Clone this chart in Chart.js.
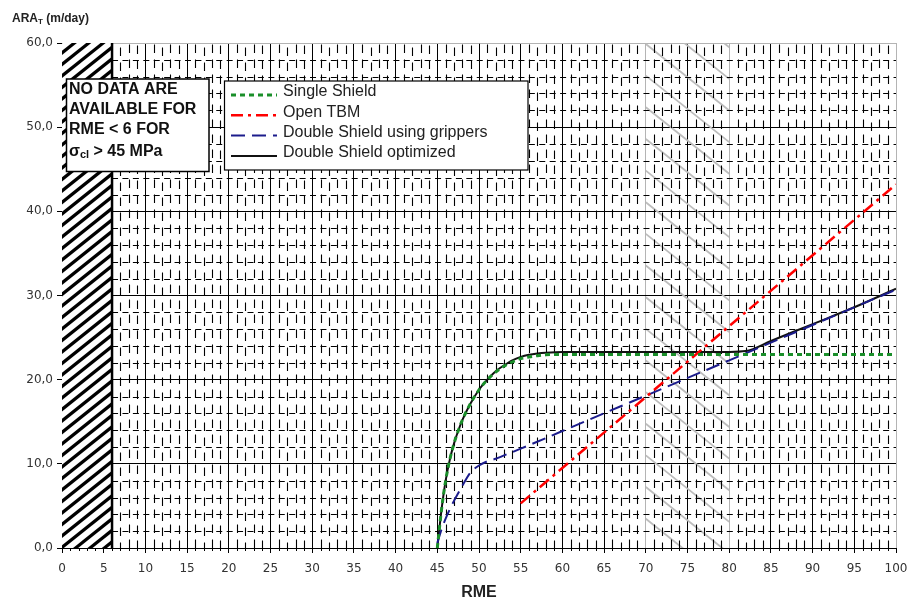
<!DOCTYPE html>
<html>
<head>
<meta charset="utf-8">
<script src="https://cdn.jsdelivr.net/npm/chart.js@4.4.0/dist/chart.umd.min.js"></script>
<style>
html, body { margin: 0; padding: 0; background: #fff; }
</style>
</head>
<body>
<canvas id="myChart" width="908" height="602"></canvas>
<script>
// values
const araTickLabels = ["0,0", "10,0", "20,0", "30,0", "40,0", "50,0", "60,0"];
const seriesNames = ["Single Shield", "Open TBM", "Double Shield using grippers", "Double Shield optimized"];

const rmeSingle = [45, 45.5, 46, 46.5, 47, 47.5, 48, 49, 50, 51, 52, 53, 54, 55, 56, 57, 58, 60, 65, 70, 75, 80, 85, 90, 95, 100];
const araSingle = [0, 4.5, 8, 10.5, 12.4, 13.9, 15.2, 17.2, 18.8, 20.0, 20.9, 21.6, 22.1, 22.5, 22.7, 22.85, 22.95, 23.0, 23.0, 23.0, 23.0, 23.0, 23.0, 23.0, 23.0, 23.0];

const rmeOpen = [55, 100];
const araOpen = [5.3, 43.2];

const rmeGrippers = [45, 45.5, 46, 46.5, 47, 47.5, 48, 49, 50, 51, 52, 53, 55, 60, 70, 80, 90, 100];
const araGrippers = [0.6, 2.2, 3.5, 4.6, 5.6, 6.5, 7.4, 9.0, 9.8, 10.3, 10.6, 11.0, 11.8, 13.9, 18.1, 22.3, 26.5, 30.7];

const rmeOptimized = [45, 45.5, 46, 46.5, 47, 47.5, 48, 49, 50, 51, 52, 53, 54, 55, 56, 57, 58, 60, 65, 70, 75, 80, 82, 85, 90, 95, 100];
const araOptimized = [0, 4.5, 8, 10.5, 12.4, 13.9, 15.2, 17.2, 18.8, 20.0, 21.0, 21.7, 22.3, 22.7, 22.95, 23.1, 23.2, 23.3, 23.3, 23.3, 23.3, 23.3, 23.4, 24.6, 26.6, 28.6, 30.8];

const noDataBelow = 6;        // hatched zone RME < 6
const bandFrom = 70, bandTo = 80;
const noteLines = ["NO DATA ARE", "AVAILABLE FOR", "RME < 6 FOR"];

function pts(xs, ys) {
	return xs.map((x, i) => ({ x: x, y: ys[i] }));
}

const FONT = "'Liberation Sans', Arial, sans-serif";

// dashed minor grid, grey band, hatched zone
const backdrop = {
	id: 'backdrop',
	beforeDatasetsDraw(chart) {
		const { ctx, chartArea: a, scales: { x, y } } = chart;
		ctx.save();
		ctx.beginPath();
		ctx.rect(a.left, a.top, a.right - a.left, a.bottom - a.top);
		ctx.clip();

		// grey diagonals between 70 and 80
		const bx0 = x.getPixelForValue(bandFrom), bx1 = x.getPixelForValue(bandTo);
		ctx.save();
		ctx.beginPath();
		ctx.rect(bx0, a.top, bx1 - bx0, a.bottom - a.top);
		ctx.clip();
		ctx.strokeStyle = '#bdbdbd';
		ctx.lineWidth = 1.8;
		for (let v = 67.4; v > -12; v -= 3.76) {
			ctx.beginPath();
			ctx.moveTo(bx0, y.getPixelForValue(v));
			ctx.lineTo(bx1, y.getPixelForValue(v - 7.9));
			ctx.stroke();
		}
		ctx.restore();

		// minor dashed lines
		ctx.strokeStyle = '#000';
		ctx.lineWidth = 1.1;
		ctx.setLineDash([8.5, 6.5]);
		for (let v = noDataBelow + 1; v < 100; v++) {
			if (v % 5 === 0) continue;
			const px = Math.round(x.getPixelForValue(v)) + 0.5;
			ctx.lineDashOffset = [0, 0, 3, 0, 1][v % 5];
			ctx.beginPath();
			ctx.moveTo(px, a.bottom);
			ctx.lineTo(px, a.top);
			ctx.stroke();
		}
		ctx.setLineDash([6, 4.42]);
		const x6 = x.getPixelForValue(noDataBelow);
		for (let v = 2; v < 60; v += 2) {
			if (v % 10 === 0) continue;
			const py = Math.round(y.getPixelForValue(v)) + 0.5;
			ctx.lineDashOffset = 0;
			ctx.beginPath();
			ctx.moveTo(x6, py);
			ctx.lineTo(a.right, py);
			ctx.stroke();
		}
		ctx.setLineDash([]);

		// hatched no-data zone
		const x0 = x.getPixelForValue(0);
		ctx.fillStyle = '#fff';
		ctx.fillRect(x0, a.top, x6 - x0, a.bottom - a.top);
		ctx.save();
		ctx.beginPath();
		ctx.rect(x0, a.top, x6 - x0, a.bottom - a.top);
		ctx.clip();
		ctx.strokeStyle = '#000';
		ctx.lineWidth = 3.2;
		const w = x6 - x0;
		for (let yl = a.top; yl < a.bottom + w + 20; yl += 11.5) {
			ctx.beginPath();
			ctx.moveTo(x0 - 2, yl);
			ctx.lineTo(x6 + 2, yl - 0.8 * (w + 4));
			ctx.stroke();
		}
		ctx.restore();
		ctx.lineWidth = 2.5;
		ctx.beginPath();
		ctx.moveTo(x6, a.top);
		ctx.lineTo(x6, a.bottom);
		ctx.stroke();
		ctx.restore();

		// minor ticks under the x axis
		ctx.save();
		ctx.strokeStyle = '#000';
		ctx.lineWidth = 1;
		for (let v = 1; v < 100; v++) {
			if (v % 5 === 0) continue;
			const px = Math.round(x.getPixelForValue(v)) + 0.5;
			ctx.beginPath();
			ctx.moveTo(px, a.bottom);
			ctx.lineTo(px, a.bottom + 3);
			ctx.stroke();
		}
		ctx.restore();
	},
	afterDraw(chart) {
		const { ctx } = chart;
		ctx.save();

		// y axis title with subscript
		ctx.fillStyle = '#222';
		ctx.textBaseline = 'middle';
		ctx.font = 'bold 12px ' + FONT;
		ctx.fillText('ARA', 12, 19);
		let tx = 12 + ctx.measureText('ARA').width;
		ctx.font = 'bold 8px ' + FONT;
		ctx.fillText('T', tx, 22);
		tx += ctx.measureText('T').width;
		ctx.font = 'bold 12px ' + FONT;
		ctx.fillText(' (m/day)', tx, 19);

		// note box
		ctx.fillStyle = '#fff';
		ctx.fillRect(66.5, 79, 142.5, 92.5);
		ctx.strokeStyle = '#000';
		ctx.lineWidth = 1.5;
		ctx.strokeRect(66.5, 79, 142.5, 92.5);
		ctx.fillStyle = '#111';
		ctx.font = 'bold 16px ' + FONT;
		const noteY = [90, 109.5, 129.5];
		noteLines.forEach((t, i) => ctx.fillText(t, 69, noteY[i]));
		ctx.fillText('σ', 69, 151.5);
		let nx = 69 + ctx.measureText('σ').width;
		ctx.font = 'bold 11px ' + FONT;
		ctx.fillText('cl', nx, 155);
		nx += ctx.measureText('cl').width;
		ctx.font = 'bold 16px ' + FONT;
		ctx.fillText(' > 45 MPa', nx, 151.5);

		// legend
		ctx.fillStyle = '#fff';
		ctx.fillRect(224.5, 81, 303.5, 89);
		ctx.strokeStyle = '#000';
		ctx.lineWidth = 1.2;
		ctx.strokeRect(224.5, 81, 303.5, 89);
		ctx.font = '16px ' + FONT;
		chart.data.datasets.forEach((ds, i) => {
			const ry = 92 + i * 20.3;
			ctx.strokeStyle = ds.borderColor;
			ctx.lineWidth = ds.borderWidth;
			ctx.setLineDash(ds.borderDash || []);
			ctx.beginPath();
			ctx.moveTo(231, ry + 3);
			ctx.lineTo(277, ry + 3);
			ctx.stroke();
			ctx.setLineDash([]);
			ctx.fillStyle = '#222';
			ctx.fillText(ds.label, 283, ry);
		});
		ctx.restore();
	}
};

const edgeGrey = '#b4b4b4';

new Chart("myChart", {
	type: 'line',
	data: {
		datasets: [
			{ label: seriesNames[0], data: pts(rmeSingle, araSingle), borderColor: '#1a8f2a', borderWidth: 3, borderDash: [5, 4], cubicInterpolationMode: 'monotone' },
			{ label: seriesNames[1], data: pts(rmeOpen, araOpen), borderColor: '#ff0000', borderWidth: 2.5, borderDash: [12, 5, 3, 5] },
			{ label: seriesNames[2], data: pts(rmeGrippers, araGrippers), borderColor: '#1c1c8c', borderWidth: 2, borderDash: [14, 7], cubicInterpolationMode: 'monotone' },
			{ label: seriesNames[3], data: pts(rmeOptimized, araOptimized), borderColor: '#111111', borderWidth: 2, cubicInterpolationMode: 'monotone' }
		]
	},
	options: {
		responsive: false,
		animation: false,
		devicePixelRatio: 1,
		layout: { padding: { left: 0, top: 43, right: 12, bottom: 0 } },
		elements: { point: { radius: 0 }, line: { tension: 0 } },
		plugins: { legend: { display: false }, tooltip: { enabled: false } },
		scales: {
			x: {
				type: 'linear',
				min: 0,
				max: 100,
				ticks: { stepSize: 5, padding: 9, color: '#333', font: { family: "'DejaVu Sans', sans-serif", size: 12 } },
				grid: {
					color: c => (c.tick && [bandFrom, bandTo, 100].includes(c.tick.value)) ? edgeGrey : '#000',
					tickColor: '#000',
					tickLength: 5,
					lineWidth: 1
				},
				border: { color: '#000', width: 1 },
				title: { display: true, text: 'RME', color: '#222', font: { family: FONT, size: 16, weight: 'bold' }, padding: 0 },
				afterFit: s => { s.height = 54; s.paddingLeft = 0; s.paddingRight = 0; }
			},
			y: {
				min: 0,
				max: 60,
				ticks: { stepSize: 10, padding: 4, color: '#333', font: { family: "'DejaVu Sans', sans-serif", size: 12 },
					callback: v => araTickLabels[Math.round(v / 10)] },
				grid: {
					color: c => (c.tick && c.tick.value === 60) ? edgeGrey : '#000',
					tickColor: '#000',
					tickLength: 5,
					lineWidth: 1
				},
				border: { color: '#000', width: 1 },
				afterFit: s => { s.width = 62; s.paddingTop = 0; s.paddingBottom = 0; }
			}
		}
	},
	plugins: [backdrop]
});
</script>
</body>
</html>
